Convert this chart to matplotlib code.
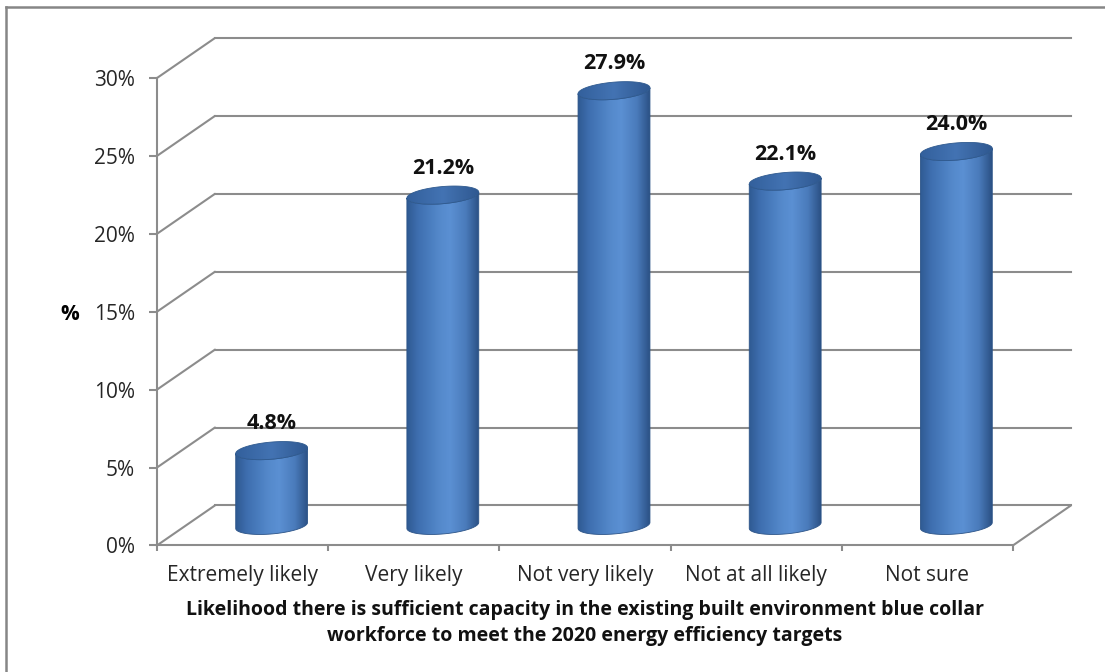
import numpy as np
import matplotlib
matplotlib.use("Agg")
import matplotlib.pyplot as plt
from matplotlib import transforms
from matplotlib.patches import Polygon
from matplotlib.lines import Line2D
from matplotlib.colors import LinearSegmentedColormap

# --- data ---
categories = ["Extremely likely", "Very likely", "Not very likely",
              "Not at all likely", "Not sure"]
values = [4.8, 21.2, 27.9, 22.1, 24.0]
value_labels = ["4.8%", "21.2%", "27.9%", "22.1%", "24.0%"]
yticks = [0, 5, 10, 15, 20, 25, 30]
ytick_labels = ["0%", "5%", "10%", "15%", "20%", "25%", "30%"]
axis_title = ("Likelihood there is sufficient capacity in the existing built environment blue collar\n"
              "workforce to meet the 2020 energy efficiency targets")

plt.rcParams['font.family'] = ['Open Sans', 'DejaVu Sans']

GRID = '#8c8c8c'
W, H = 1105, 672
DEPTH_X, DEPTH_Y = 58, 40   # pixel offset of the back wall
FS = 15

body_cmap = LinearSegmentedColormap.from_list(
    'body', [(0, '#2f5a92'), (0.15, '#3e6eaf'), (0.45, '#5489cb'),
             (0.6, '#5b90d3'), (0.82, '#4a7bbb'), (1, '#2b5185')])
top_cmap = LinearSegmentedColormap.from_list(
    'top', [(0, '#33609c'), (0.5, '#4373b3'), (1, '#2f5890')])

fig = plt.figure(figsize=(W / 100, H / 100), dpi=100)
ax = fig.add_axes([157 / W, (H - 545.4) / H, 856 / W, 467.4 / H])
ax.set_xlim(-0.5, len(categories) - 0.5)
ax.set_ylim(yticks[0], yticks[-1])

back = transforms.offset_copy(ax.transData, fig=fig, x=DEPTH_X, y=DEPTH_Y, units='dots')
mid = transforms.offset_copy(ax.transData, fig=fig, x=DEPTH_X / 2, y=DEPTH_Y / 2, units='dots')

# back wall gridlines + side wall diagonals
x0, x1 = ax.get_xlim()
for v in yticks:
    ax.plot([x0, x1], [v, v], color=GRID, lw=1.5, transform=back, clip_on=False, zorder=1)
    ax.annotate('', xy=(x0, v), xytext=(DEPTH_X, DEPTH_Y), textcoords='offset pixels',
                arrowprops=dict(arrowstyle='-', color=GRID, lw=1.5, shrinkA=0, shrinkB=0),
                annotation_clip=False, zorder=1)
# floor right edge
ax.annotate('', xy=(x1, 0), xytext=(DEPTH_X, DEPTH_Y), textcoords='offset pixels',
            arrowprops=dict(arrowstyle='-', color=GRID, lw=1.5, shrinkA=0, shrinkB=0),
            annotation_clip=False, zorder=1)

# cylinders
half_w = 0.21   # half width in category units
ry = 0.55       # ellipse half height in %
tilt = 0.38     # rise of ellipse across the width in %
grad = np.linspace(0, 1, 256).reshape(1, -1)
t_full = np.linspace(0, 2 * np.pi, 120)
t_front = np.linspace(np.pi, 2 * np.pi, 60)
for i, v in enumerate(values):
    fx = half_w * np.cos(t_front)
    fy = ry * np.sin(t_front) + tilt * fx / (2 * half_w)
    bx = np.concatenate([i + fx, i + fx[::-1]])
    by = np.concatenate([fy, v + fy[::-1]])
    body = Polygon(np.column_stack([bx, by]), closed=True, transform=mid,
                   facecolor='none', edgecolor='#2c5488', lw=0.6, zorder=3.1, clip_on=False)
    ax.add_patch(body)
    img = ax.imshow(grad, cmap=body_cmap, extent=(i - half_w, i + half_w, -1, v + 1),
                    transform=mid, aspect='auto', interpolation='bilinear', zorder=3)
    img.set_clip_path(body)

    ex = half_w * np.cos(t_full)
    ey = ry * np.sin(t_full) + tilt * ex / (2 * half_w)
    top = Polygon(np.column_stack([i + ex, v + ey]), closed=True, transform=mid,
                  facecolor='none', edgecolor='#2f5a8f', lw=0.6, zorder=4.1, clip_on=False)
    ax.add_patch(top)
    timg = ax.imshow(grad, cmap=top_cmap, extent=(i - half_w, i + half_w, v - 1, v + 1),
                     transform=mid, aspect='auto', interpolation='bilinear', zorder=4)
    timg.set_clip_path(top)

    ax.annotate(value_labels[i], xy=(i, v), xycoords=mid, xytext=(0, 27),
                textcoords='offset pixels', ha='center', va='center',
                fontsize=15.5, fontweight='bold', color='#111111', annotation_clip=False)

ax.set_xlim(x0, x1)
ax.set_ylim(yticks[0], yticks[-1])

# axes, ticks, labels
for s in ['top', 'right']:
    ax.spines[s].set_visible(False)
for s in ['left', 'bottom']:
    ax.spines[s].set_color(GRID)
    ax.spines[s].set_linewidth(1.5)
ax.set_facecolor('none')

ax.set_yticks(yticks, ytick_labels)
ax.tick_params(axis='y', direction='out', length=6, width=1.5, color=GRID,
               pad=10, labelsize=FS, labelcolor='#262626')
ax.set_xticks(np.arange(len(categories) + 1) - 0.5, [''] * (len(categories) + 1))
ax.set_xticks(np.arange(len(categories)), categories, minor=True)
ax.tick_params(axis='x', which='major', direction='out', length=4, width=1.5, color=GRID)
ax.tick_params(axis='x', which='minor', length=0, pad=14, labelsize=FS, labelcolor='#262626')

ax.set_ylabel('%', rotation=0, fontsize=FS, fontweight='bold', ha='center', va='center')
ax.yaxis.set_label_coords(-0.1016, 0.495)

fig.text(585 / W, 1 - 623 / H, axis_title, ha='center', va='center', fontsize=14,
         fontweight='bold', multialignment='center', linespacing=1.35, color='#111111')

# outer chart frame (right and bottom edges fall outside the picture)
fig.add_artist(Line2D([6 / W, 6 / W], [0, 1 - 7 / H], transform=fig.transFigure,
                      color='#868686', lw=1.8))
fig.add_artist(Line2D([6 / W, 1], [1 - 7 / H, 1 - 7 / H], transform=fig.transFigure,
                      color='#868686', lw=1.8))

fig.savefig('out.png', dpi=100)
